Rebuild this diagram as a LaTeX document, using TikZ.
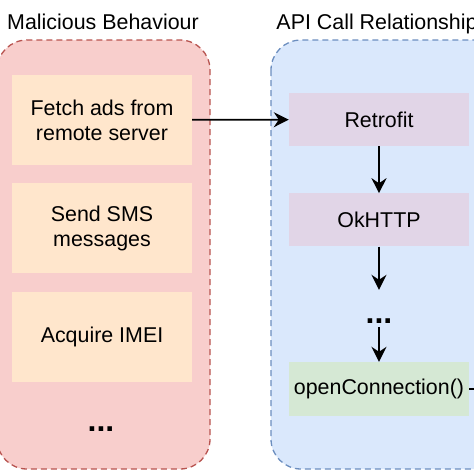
\documentclass[tikz,border=0pt]{standalone}
\usepackage{fontspec}
\setmainfont{Liberation Sans}
\usetikzlibrary{arrows.meta,positioning}

\definecolor{redfill}{HTML}{F8CECC}
\definecolor{redline}{HTML}{B85450}
\definecolor{orangefill}{HTML}{FFE6CC}
\definecolor{bluefill}{HTML}{DAE8FC}
\definecolor{blueline}{HTML}{6C8EBF}
\definecolor{purplefill}{HTML}{E1D5E7}
\definecolor{greenfill}{HTML}{D5E8D4}

\begin{document}
\begin{tikzpicture}[
        x=1pt, y=-1pt, % coordinates in pixels, downwards
        every node/.style={font=\fontsize{21.4}{25}\selectfont},
        group/.style={dash pattern=on 6pt off 4pt, line width=1.3pt, rounded corners=30pt}, % dashed frames
        task/.style={fill=orangefill, minimum width=180pt, minimum height=90pt, align=center, inner sep=0pt},
        call/.style={fill=purplefill, minimum width=180pt, minimum height=53pt, inner sep=0pt},
        dotsty/.style={font=\fontsize{32}{32}\selectfont\bfseries, inner sep=0pt},
        link/.style={draw, line width=1.8pt, -{Stealth[length=15pt, width=15pt, inset=5pt]}},
    ]

    \clip (0,0) rectangle (474,474);

    % frames
    \draw[group, draw=redline, fill=redfill] (-3,40) rectangle (210,469);
    \draw[group, draw=blueline, fill=bluefill] (271,40) rectangle (510,469);
    \node[anchor=base] (maltitle) at (103,29) {Malicious Behaviour};
    \node[anchor=base] (apititle) at (377,29) {API Call Relationship};

    % malicious behaviour
    \node[task] (fetchads) at (102,120) {Fetch ads from\\remote server};
    \node[task, below=18pt of fetchads] (sendsms) {Send SMS\\messages};
    \node[task, below=18pt of sendsms] (imei) {Acquire IMEI};
    \node[dotsty, anchor=base] (moretasks) at (101,431) {...};

    % api calls
    \node[call] (retrofit) at (379,119.5) {Retrofit};
    \node[call, below=47pt of retrofit] (okhttp) {OkHTTP};
    \node[dotsty, anchor=base, text height=33pt, text depth=4pt] (calldots) at (379,323) {...};
    \node[call, fill=greenfill, minimum height=54pt] (opencon) at (379,389) {openConnection()};
    \coordinate (exit) at (510,389);

    \draw[link] (fetchads) -- (retrofit);
    \draw[link] (retrofit) -- (okhttp);
    \draw[link] (okhttp) -- (calldots);
    \draw[link] (calldots) -- (opencon);
    \draw[line width=1.8pt] (opencon) -- (exit);
\end{tikzpicture}
\end{document}
